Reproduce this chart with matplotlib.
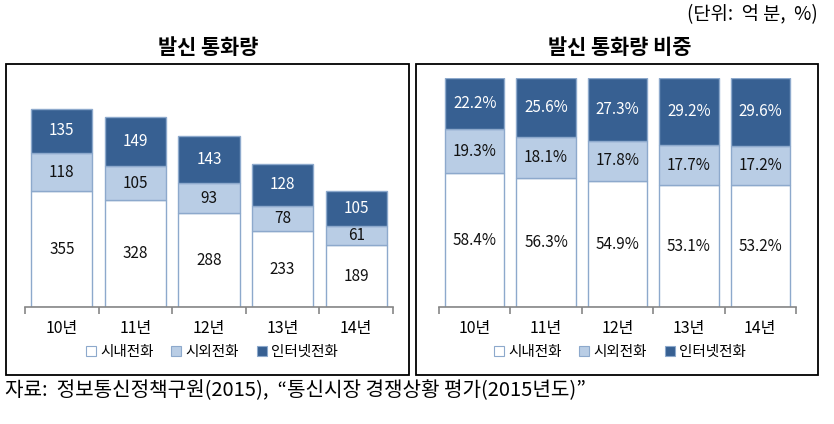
import matplotlib
matplotlib.use("Agg")
import matplotlib.pyplot as plt
from matplotlib.patches import Patch, Rectangle

plt.rcParams['font.family'] = ['Noto Sans CJK KR', 'DejaVu Sans']

# -----------------------------------------------------------------------------
# Data
# -----------------------------------------------------------------------------
years = ["10년", "11년", "12년", "13년", "14년"]
series_names = ["시내전화", "시외전화", "인터넷전화"]

local_min = [355, 328, 288, 233, 189]
long_min = [118, 105, 93, 78, 61]
inet_min = [135, 149, 143, 128, 105]

local_pct = [58.4, 56.3, 54.9, 53.1, 53.2]
long_pct = [19.3, 18.1, 17.8, 17.7, 17.2]
inet_pct = [22.2, 25.6, 27.3, 29.2, 29.6]

# -----------------------------------------------------------------------------
# Style
# -----------------------------------------------------------------------------
C_LOCAL = "#FFFFFF"
C_LONG = "#B9CDE5"
C_INET = "#376092"
C_EDGE = "#8DA9CC"
AXIS_GRAY = "#868686"
W, H = 834, 424


def draw_panel(ax, series, fmt, ymax):
    x = range(len(years))
    bottom = [0] * len(years)
    colors = [C_LOCAL, C_LONG, C_INET]
    txt_colors = ["#111111", "#111111", "white"]
    for vals, col, tcol in zip(series, colors, txt_colors):
        ax.bar(x, vals, bottom=bottom, width=0.83, color=col,
               edgecolor=C_EDGE, linewidth=1.0, zorder=2)
        for xi, v, b in zip(x, vals, bottom):
            ax.text(xi, b + v / 2, fmt(v), ha="center", va="center",
                    fontsize=11, color=tcol, zorder=3)
        bottom = [b + v for b, v in zip(bottom, vals)]

    ax.set_xlim(-0.5, len(years) - 0.5)
    ax.set_ylim(0, ymax)
    ax.set_yticks([])
    for s in ["top", "right", "left"]:
        ax.spines[s].set_visible(False)
    ax.spines["bottom"].set_color(AXIS_GRAY)
    ax.spines["bottom"].set_linewidth(1.2)
    ax.set_xticks(list(x))
    ax.set_xticklabels(years, fontsize=11.5)
    ax.tick_params(axis="x", which="major", length=0, pad=9)
    ax.set_xticks([i - 0.5 for i in range(len(years) + 1)], minor=True)
    ax.tick_params(axis="x", which="minor", length=5, width=1.2,
                   color=AXIS_GRAY, direction="out")
    ax.patch.set_visible(False)


def legend_at(fig, xc, yc):
    handles = [Patch(facecolor=c, edgecolor=C_EDGE, linewidth=0.8)
               for c in [C_LOCAL, C_LONG, C_INET]]
    fig.legend(handles, series_names, loc="center",
               bbox_to_anchor=(xc / W, 1 - yc / H), ncol=3, frameon=False,
               fontsize=10.5, handlelength=0.7, handleheight=0.7,
               handletextpad=0.3, columnspacing=1.2, borderaxespad=0)


fig = plt.figure(figsize=(W / 100, H / 100), dpi=100)

# frames around the two panels
for x0, x1 in [(6, 409), (416, 818)]:
    fig.patches.append(Rectangle((x0 / W, 1 - 375 / H), (x1 - x0) / W, 311 / H,
                                 transform=fig.transFigure, fill=False,
                                 edgecolor="black", linewidth=1.3))

ax1 = fig.add_axes([25 / W, 117 / H, 368 / W, 228 / H])
draw_panel(ax1, [local_min, long_min, inet_min], lambda v: f"{v}", 700)

ax2 = fig.add_axes([439 / W, 117 / H, 357 / W, 229 / H])
draw_panel(ax2, [local_pct, long_pct, inet_pct], lambda v: f"{v:.1f}%", 100)

legend_at(fig, 212, 352)
legend_at(fig, 620, 352)

fig.text(208 / W, 1 - 47 / H, "발신 통화량", ha="center", va="center",
         fontsize=15, fontweight="bold")
fig.text(620 / W, 1 - 47 / H, "발신 통화량 비중", ha="center", va="center",
         fontsize=15, fontweight="bold")
fig.text(818 / W, 1 - 15 / H, "(단위:  억 분,  %)", ha="right", va="center",
         fontsize=13.5)
fig.text(5 / W, 1 - 391 / H,
         "자료:  정보통신정책구원(2015),  “통신시장 경쟁상황 평가(2015년도)”",
         ha="left", va="center", fontsize=14.5)

fig.savefig("out.png", dpi=100)
